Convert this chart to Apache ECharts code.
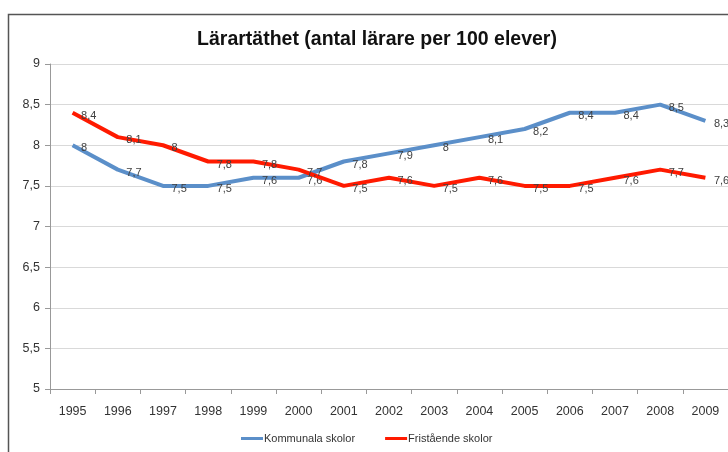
<!DOCTYPE html>
<html><head><meta charset="utf-8">
<script src="https://cdn.jsdelivr.net/npm/echarts@6/dist/echarts.min.js"></script>
<style>html,body{margin:0;padding:0;background:#fff}#c{width:728px;height:452px}</style>
</head><body><div id="c"></div>
<script>
const years = ['1995','1996','1997','1998','1999','2000','2001','2002','2003','2004','2005','2006','2007','2008','2009'];
const kommunala = [8, 7.7, 7.5, 7.5, 7.6, 7.6, 7.8, 7.9, 8, 8.1, 8.2, 8.4, 8.4, 8.5, 8.3];
const fristaende = [8.4, 8.1, 8, 7.8, 7.8, 7.7, 7.5, 7.6, 7.5, 7.6, 7.5, 7.5, 7.6, 7.7, 7.6];
const yTicks = {min: 5, max: 9, interval: 0.5};
const BLUE = '#5B8FC9', RED = '#FF1A00';
const NARROW = "'Liberation Sans Narrow', 'Liberation Sans', sans-serif";
const fmt = v => String(v).replace('.', ',');
const chart = echarts.init(document.getElementById('c'));
const lbl = {show: true, position: 'right', distance: 8, offset: [0, 3], color: '#404040', fontSize: 11, fontFamily: NARROW, formatter: p => fmt(p.value)};
chart.setOption({
  animation: false,
  textStyle: {fontFamily: 'Liberation Sans'},
  graphic: [{type: 'rect', shape: {x: 8.5, y: 14.5, width: 760, height: 460}, style: {fill: 'none', stroke: '#555', lineWidth: 1.5}}],
  title: {text: 'Lärartäthet (antal lärare per 100 elever)', left: 372, top: 25, textAlign: 'center',
    textStyle: {fontSize: 19.5, fontWeight: 'bold', color: '#111', fontFamily: 'Liberation Sans'}},
  grid: {left: 50, right: -2, top: 64, bottom: 63},
  legend: {bottom: 3, left: 236, itemGap: 30, itemWidth: 22, itemHeight: 3, icon: 'rect',
    data: [{name: 'Kommunala skolor', itemStyle: {color: BLUE, opacity: 1}}, {name: 'Fristående skolor', itemStyle: {color: RED, opacity: 1}}],
    textStyle: {fontSize: 11, color: '#333', fontFamily: NARROW, padding: [0, 0, 0, -4]}},
  xAxis: {type: 'category', data: years, boundaryGap: true,
    axisLine: {lineStyle: {color: '#999'}}, axisTick: {show: true, length: 5, lineStyle: {color: '#999'}},
    axisLabel: {color: '#333', fontSize: 12.5, margin: 16, fontFamily: NARROW}},
  yAxis: {type: 'value', min: yTicks.min, max: yTicks.max, interval: yTicks.interval,
    axisLine: {show: true, lineStyle: {color: '#999'}}, axisTick: {show: true, length: 5, lineStyle: {color: '#999'}},
    axisLabel: {color: '#333', fontSize: 12.5, margin: 10, fontFamily: NARROW, formatter: v => fmt(v)},
    splitLine: {lineStyle: {color: '#d9d9d9'}}},
  series: [
    {name: 'Kommunala skolor', type: 'line', data: kommunala, symbol: 'circle', symbolSize: 1, showSymbol: true,
     itemStyle: {color: 'rgba(0,0,0,0)'},
     lineStyle: {width: 4, color: BLUE}, label: lbl, z: 2},
    {name: 'Fristående skolor', type: 'line', data: fristaende, symbol: 'circle', symbolSize: 1, showSymbol: true,
     itemStyle: {color: 'rgba(0,0,0,0)'},
     lineStyle: {width: 4, color: RED}, label: lbl, z: 3}
  ]
});
</script></body></html>
